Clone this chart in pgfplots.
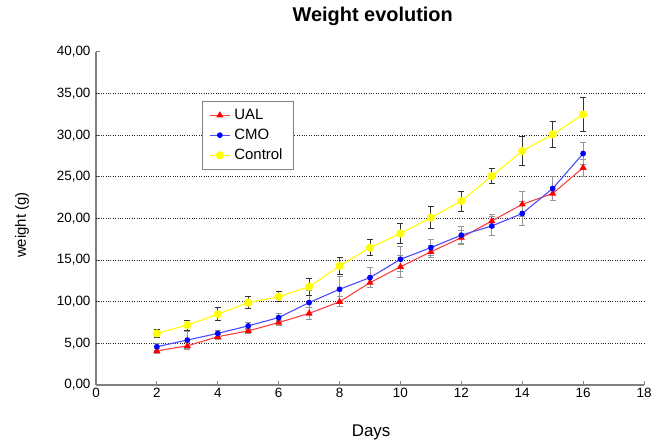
\documentclass[border=0pt]{standalone}
\usepackage{pgfplots}
\pgfplotsset{compat=1.18}
\usepackage{pgfplotstable}
\usepackage{fontspec}
\setmainfont{Liberation Sans}

\pgfplotstableread{
x y e
2 4.1 0.3
3 4.7 0.4
4 5.8 0.3
5 6.5 0.3
6 7.5 0.3
7 8.6 0.7
8 10.0 0.6
9 12.3 0.6
10 14.2 1.3
11 16.0 0.7
12 17.7 0.8
13 19.7 0.8
14 21.7 1.5
15 23.0 0.8
16 26.1 1.0
}\ual

\pgfplotstableread{
x y e
2 4.6 0.4
3 5.4 1.0
4 6.2 0.4
5 7.1 0.4
6 8.1 0.5
7 9.9 1.5
8 11.5 1.5
9 12.9 1.2
10 15.1 1.5
11 16.5 1.0
12 18.0 1.0
13 19.1 1.2
14 20.6 1.5
15 23.6 1.4
16 27.8 1.3
}\cmo

\pgfplotstableread{
x y e
2 6.2 0.5
3 7.2 0.6
4 8.5 0.75
5 9.9 0.7
6 10.6 0.6
7 11.8 1.0
8 14.3 1.0
9 16.5 1.0
10 18.2 1.2
11 20.1 1.3
12 22.1 1.2
13 25.1 0.85
14 28.1 1.75
15 30.1 1.6
16 32.5 2.0
}\control

\definecolor{axgray}{RGB}{128,128,128}
\definecolor{ebgray}{RGB}{150,150,150}
\definecolor{ebdark}{RGB}{50,50,50}
\definecolor{cred}{RGB}{255,0,0}
\definecolor{cblue}{RGB}{0,0,255}
\definecolor{cyellow}{RGB}{255,255,0}

\begin{document}
\begin{tikzpicture}
\begin{axis}[
  scale only axis,
  width=548bp, height=333bp,
  xmin=0, xmax=18, ymin=0, ymax=40,
  xtick={0,2,...,18},
  ytick={0,5,...,40},
  extra y ticks={5,10,...,35},
  extra y tick style={grid=major, major tick length=0pt, yticklabels={}},
  grid style={black!85, dotted, line width=1bp},
  axis x line=bottom, axis y line=left,
  xtick align=inside, ytick align=inside,
  axis line style={axgray, line width=1.5bp, -},
  tick style={axgray, line width=1bp},
  major tick length=4bp,
  /pgf/number format/assume math mode=true,
  tick label style={font=\fontsize{13.5}{13.5}\selectfont},
  yticklabel style={xshift=-2bp, /pgf/number format/.cd, fixed, fixed zerofill, precision=2, use comma},
  xticklabel style={/pgf/number format/.cd, fixed, precision=0},
  every axis title shift=0pt,
  title={\textbf{Weight evolution}},
  title style={at={(rel axis cs:0.505,1.108)}, anchor=center, font=\fontsize{20}{20}\selectfont},
  xlabel={Days},
  xlabel style={at={(rel axis cs:0.502,-0.141)}, anchor=center, font=\fontsize{17}{17}\selectfont},
  ylabel={weight (g)},
  ylabel style={at={(rel axis cs:-0.135,0.48)}, anchor=center, rotate=0, font=\fontsize{15}{15}\selectfont},
  legend style={at={(rel axis cs:0.193,0.853)}, anchor=north west, draw=axgray, line width=1bp,
    font=\fontsize{15}{15}\selectfont, inner xsep=7bp, inner ysep=6bp, row sep=4bp,
    nodes={inner xsep=4bp}},
  legend cell align=left,
  legend image code/.code={\draw[mark repeat=2,mark phase=2] plot coordinates {(0bp,0bp)(10bp,0bp)(20bp,0bp)};},
  error bars/error bar style={ebgray, line width=1bp},
  error bars/error mark options={rotate=90, mark size=3bp, ebgray, line width=1bp},
]
\addplot[cred!75!white, line width=1.1bp, mark=triangle*, mark size=3bp, mark options={cred, fill=cred},
  error bars/.cd, y dir=both, y explicit] table[x=x, y=y, y error=e] {\ual};
\addlegendentry{UAL}
\addplot[cblue!70!white, line width=1.1bp, mark=*, mark size=2.3bp, mark options={cblue, fill=cblue},
  error bars/.cd, y dir=both, y explicit] table[x=x, y=y, y error=e] {\cmo};
\addlegendentry{CMO}
\addplot[cyellow, line width=1.1bp, mark=*, mark size=3.5bp, mark options={cyellow, fill=cyellow},
  error bars/.cd, y dir=both, y explicit,
  error bar style={ebdark, line width=1bp},
  error mark options={rotate=90, mark size=3bp, ebdark, line width=1bp}] table[x=x, y=y, y error=e] {\control};
\addlegendentry{Control}
\end{axis}
\pgfresetboundingbox
\path[use as bounding box] (-96bp,-60bp) rectangle (560bp,385bp);
\end{tikzpicture}
\end{document}
